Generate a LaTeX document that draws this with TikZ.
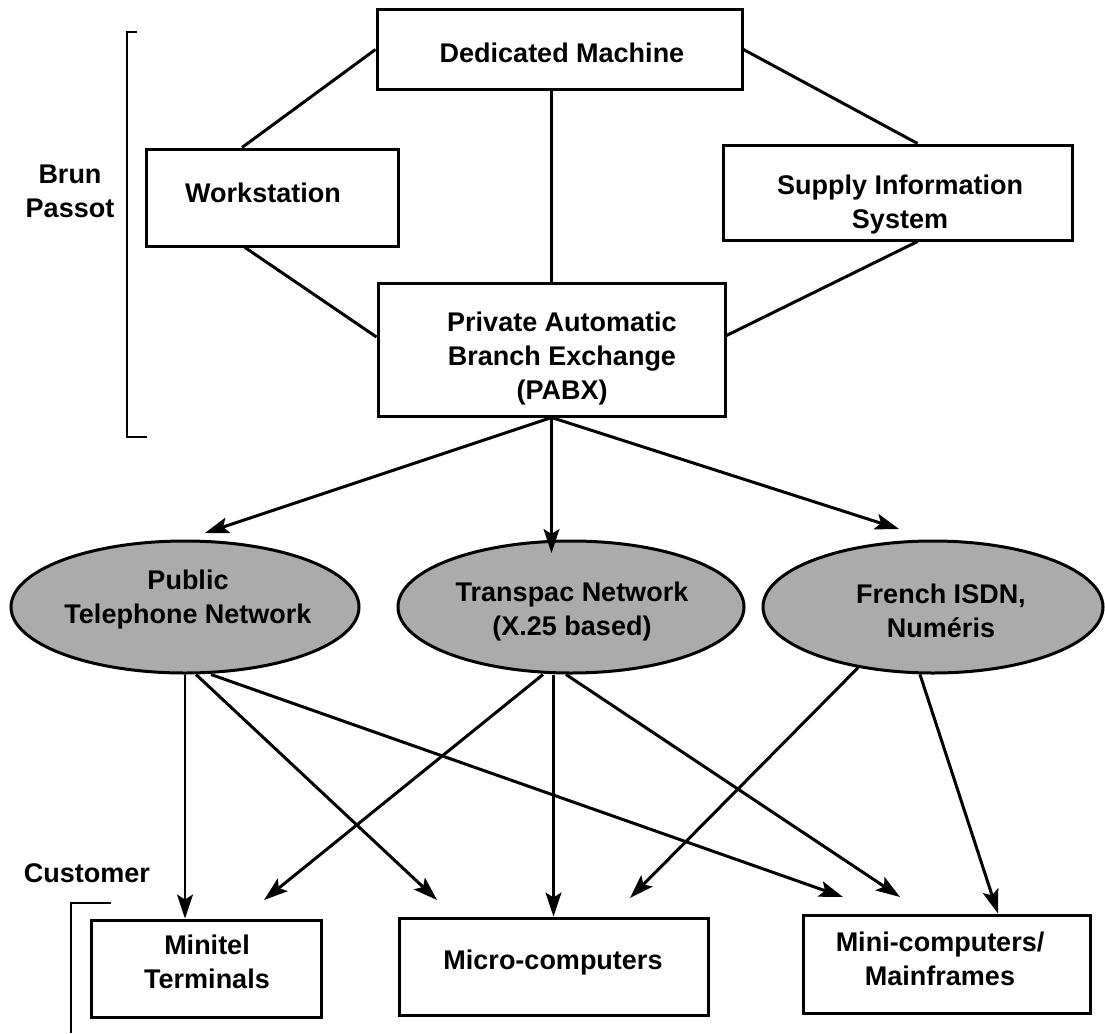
\documentclass[tikz,border=0pt]{standalone}
\usepackage{fontspec}
\setmainfont{Liberation Sans}
\usetikzlibrary{arrows.meta,shapes.geometric}
\begin{document}
\begin{tikzpicture}[x=1pt,y=-1pt,
  box/.style={draw, line width=3pt, rectangle, inner sep=0pt},
  net/.style={draw, line width=3pt, ellipse, inner sep=0pt, fill=black!33, minimum width=346pt, minimum height=132pt},
  lbl/.style={font=\fontsize{27}{34}\selectfont\bfseries, align=center, inner sep=0pt},
  link/.style={line width=3pt},
  vlink/.style={line width=2.3pt},
  arr/.style={line width=3pt, -{Stealth[length=24pt,width=16pt,inset=5pt]}},
  varr/.style={line width=2.3pt, -{Stealth[length=24pt,width=16pt,inset=5pt]}},
  brk/.style={line width=2.4pt}
]
\useasboundingbox (0,0) rectangle (1105,1033);
\fill[white] (0,0) rectangle (1105,1033);

% top boxes
\node[box, minimum width=365pt, minimum height=79pt] (dm) at (559.5,49.5) {};
\node[lbl] (dmt) at (562,53) {Dedicated Machine};
\node[box, minimum width=252pt, minimum height=97pt] (ws) at (272,197.5) {};
\node[lbl] (wst) at (263,193) {Workstation};
\node[box, minimum width=349pt, minimum height=95pt] (sis) at (897.5,192.5) {};
\node[lbl] (sist) at (900,205) {Supply Information\\System};
\node[box, minimum width=347pt, minimum height=133pt] (pabx) at (551.5,349.5) {};
\node[lbl] (pabxt) at (562,359) {Private Automatic\\Branch Exchange\\(PABX)};

% networks
\node[net, minimum width=348pt] (pub) at (185,607) {};
\node[lbl] (pubt) at (188,600) {Public\\Telephone Network};
\node[net] (tra) at (571,607) {};
\node[lbl] (trat) at (572,612) {Transpac Network\\(X.25 based)};
\node[net, minimum width=340pt] (fre) at (933,607) {};
\node[lbl] (fret) at (941,611) {French ISDN,\\Numéris};

% customer boxes
\node[box, minimum width=230pt, minimum height=97pt] (min) at (206,968.5) {};
\node[lbl] (mint) at (207,962) {Minitel\\Terminals};
\node[box, minimum width=309pt, minimum height=97pt] (mic) at (553.5,966.5) {};
\node[lbl] (mict) at (553,963) {Micro-computers};
\node[box, minimum width=287pt, minimum height=98pt] (mf) at (946.5,964) {};
\node[lbl] (mft) at (940,958.5) {Mini-computers/\\Mainframes};

% side labels
\node[lbl] (bp) at (70,191.5) {Brun\\Passot};
\node[lbl] (cu) at (87,873) {Customer};
\draw[brk] (137,32) -- (127,32) -- (127,437) -- (147,437);
\draw[brk] (111,903) -- (71,903) -- (71,1033);

% upper links
\draw[link] (dm.west) -- ([xshift=-30pt]ws.north);
\draw[link] (dm.east) -- ([xshift=20pt]sis.north);
\draw[link] ([xshift=-27pt]ws.south) -- ([yshift=12.5pt]pabx.west);
\draw[link] ([xshift=20pt]sis.south) -- ([yshift=14pt]pabx.east);
\draw[vlink] (pabx.north |- dm.south) -- (pabx.north);

% PABX to networks
\coordinate (tpub) at (205,533);
\coordinate (ttra) at (551.5,553);
\coordinate (tfre) at (899,529);
\draw[arr] (pabx.south) -- (tpub);
\draw[varr] (pabx.south) -- (ttra);
\draw[arr] (pabx.south) -- (tfre);

% networks to customers
\coordinate (a1) at (437,900);
\coordinate (a2) at (843,897);
\coordinate (a3) at (264,900);
\coordinate (a4) at (630,898);
\coordinate (a5) at (900,897);
\draw[varr] (pub.south) -- (pub.south |- min.north);
\draw[arr] ([xshift=11pt]pub.south) -- (a1);
\draw[arr] ([xshift=26pt]pub.south) -- (a2);
\draw[arr] ([xshift=-28pt]tra.south) -- (a3);
\draw[varr] (mic.north |- tra.south) -- (mic.north);
\draw[arr] ([xshift=-5pt]tra.south) -- (a5);
\draw[arr] (fre.-141) -- (a4);
\draw[arr] (fre.-101) -- ([xshift=51.5pt]mf.north);
\end{tikzpicture}
\end{document}
